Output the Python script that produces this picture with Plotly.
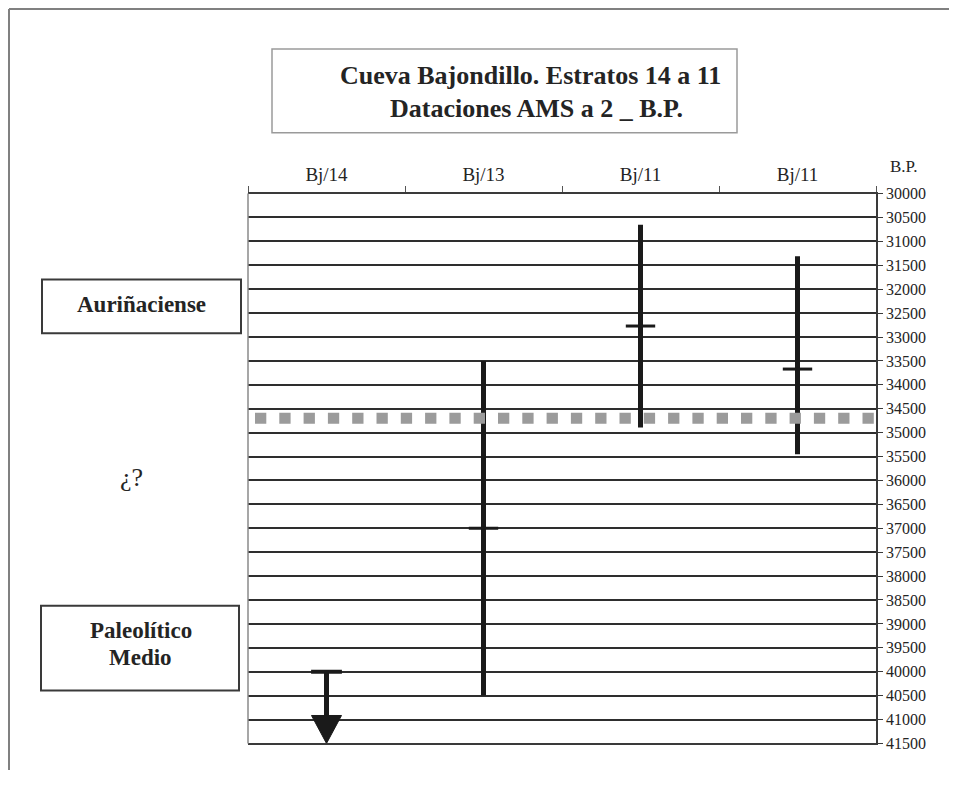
import plotly.graph_objects as go

# ---------------- data ----------------
categories = ["Bj/14", "Bj/13", "Bj/11", "Bj/11"]
cat_pos = [0, 1, 2, 3]

# AMS dates (years B.P.), 2-sigma ranges
dated_pos = [1, 2, 3]
dated_center = [37000, 32770, 33670]
dated_young = [33500, 30650, 31310]
dated_old = [40500, 34890, 35450]

# Bj/14: older than 40000 B.P.
bj14_pos = 0
bj14_min_age = 40000

# Auriñaciense / Paleolítico Medio boundary (dotted line)
boundary_age = 34700

y_ticks = [30000, 30500, 31000, 31500, 32000, 32500, 33000, 33500, 34000, 34500,
           35000, 35500, 36000, 36500, 37000, 37500, 38000, 38500, 39000, 39500,
           40000, 40500, 41000, 41500]
y_tick_text = [str(v) for v in y_ticks]
y_min, y_max = y_ticks[0], y_ticks[-1]

title_lines = ["Cueva Bajondillo. Estratos 14 a 11", "Dataciones AMS a 2 _ B.P."]
period_upper = "Auriñaciense"
period_mid = "¿?"
period_lower = ["Paleolítico", "Medio"]
axis_unit = "B.P."

# ---------------- layout geometry ----------------
# Target positions are given in picture pixels; the page keeps its default
# 8px body margin, so the figure is 16px smaller than the 957x787 window.
WIN_W, WIN_H = 957, 787
OFF = 8
W, H = WIN_W - 2 * OFF, WIN_H - 2 * OFF
Y_SCALE, Y_SHIFT = 0.98, 7.2          # picture-vs-page vertical calibration
L, R, T, B = 248, 876, 193, 744       # plot area in picture pixels
FONT = "Liberation Serif"
INK = "#242424"
BAR = "#1a1a1a"


def px(x):
    return (x - OFF) / W


def py(y):
    page_y = (y - Y_SHIFT) / Y_SCALE
    return 1 - (page_y - OFF) / H


yrs_per_px = (y_max - y_min) / (B - T)
cat_per_px = len(categories) / (R - L)

fig = go.Figure()

# dummy trace to hold the category-label axis
fig.add_trace(go.Scatter(x=cat_pos, y=[y_min] * len(cat_pos), xaxis="x2", yaxis="y",
                         mode="markers", marker=dict(opacity=0), hoverinfo="skip",
                         showlegend=False))

# Bj/14 : cap at 40000 with arrow downward (older)
head_len = 28 * yrs_per_px
head_hw = 15 * cat_per_px
arrow_base = y_max - head_len
fig.add_trace(go.Scatter(x=[bj14_pos, bj14_pos], y=[bj14_min_age, arrow_base + 30],
                         mode="lines", line=dict(color=BAR, width=5),
                         hoverinfo="skip", showlegend=False))
fig.add_trace(go.Scatter(x=[bj14_pos - head_hw, bj14_pos + head_hw, bj14_pos, bj14_pos - head_hw],
                         y=[arrow_base, arrow_base, y_max, arrow_base],
                         mode="lines", fill="toself", fillcolor=BAR,
                         line=dict(color=BAR, width=1),
                         hoverinfo="skip", showlegend=False))
fig.add_trace(go.Scatter(x=[bj14_pos], y=[bj14_min_age], mode="markers",
                         marker=dict(symbol="line-ew", size=22,
                                     line=dict(color=BAR, width=4)),
                         hoverinfo="skip", showlegend=False))

# dated ranges
fig.add_trace(go.Scatter(
    x=dated_pos, y=dated_center, mode="markers",
    marker=dict(symbol="line-ew", size=21, line=dict(color=BAR, width=3)),
    error_y=dict(type="data", symmetric=False,
                 array=[o - c for o, c in zip(dated_old, dated_center)],
                 arrayminus=[c - yg for c, yg in zip(dated_center, dated_young)],
                 thickness=5, width=0, color=BAR),
    hoverinfo="skip", showlegend=False))

# dotted boundary
dot_start = -0.5 + 7 * cat_per_px
fig.add_trace(go.Scatter(x=[dot_start, 3.5], y=[boundary_age, boundary_age], mode="lines",
                         line=dict(color="#9b9b9b", width=11, dash="11.3px,13px"),
                         hoverinfo="skip", showlegend=False))

shapes = [
    # outer frame
    dict(type="line", xref="paper", yref="paper", x0=px(9), x1=1, y0=py(8), y1=py(8),
         line=dict(color="#808080", width=2)),
    dict(type="line", xref="paper", yref="paper", x0=px(9), x1=px(9), y0=0, y1=py(8),
         line=dict(color="#808080", width=2)),
    # left boundary of the plot
    dict(type="line", xref="paper", yref="paper", x0=px(L), x1=px(L), y0=py(B), y1=py(T),
         line=dict(color="#8a8a8a", width=1.5)),
    # title box
    dict(type="rect", xref="paper", yref="paper", x0=px(272), x1=px(737), y0=py(132), y1=py(48),
         line=dict(color="#9a9a9a", width=1.5)),
    # period boxes
    dict(type="rect", xref="paper", yref="paper", x0=px(42), x1=px(241), y0=py(333), y1=py(279),
         line=dict(color="#3a3a3a", width=2)),
    dict(type="rect", xref="paper", yref="paper", x0=px(41), x1=px(239), y0=py(691), y1=py(606),
         line=dict(color="#3a3a3a", width=2)),
]


def note(text, x, y, size):
    return dict(text=text, x=px(x), y=py(y), xref="paper", yref="paper",
                showarrow=False, xanchor="center", yanchor="middle",
                font=dict(family=FONT, size=size, color=INK))


annotations = [
    note("<b>%s</b>" % title_lines[0], 530, 75, 26),
    note("<b>%s</b>" % title_lines[1], 536, 108, 26),
    note("<b>%s</b>" % period_upper, 141.5, 304, 23),
    note(period_mid, 131, 478, 26),
    note("<b>%s</b>" % period_lower[0], 140.5, 631, 23),
    note("<b>%s</b>" % period_lower[1], 140, 658, 23),
    note(axis_unit, 903, 166, 17),
]

fig.update_layout(
    width=W, height=H,
    margin=dict(l=0, r=0, t=0, b=0),
    paper_bgcolor="white", plot_bgcolor="white",
    showlegend=False, hovermode=False,
    xaxis=dict(domain=[px(L), px(R)], range=[-0.5, 3.5], side="top", anchor="y",
               showline=True, linecolor="#3a3a3a", linewidth=1.5, mirror=True,
               tickmode="array", tickvals=[-0.5, 0.5, 1.5, 2.5, 3.5],
               ticks="outside", ticklen=6, tickwidth=1, tickcolor="#555",
               showticklabels=False, showgrid=False, zeroline=False, fixedrange=True),
    xaxis2=dict(domain=[px(L), px(R)], range=[-0.5, 3.5], side="top", anchor="y",
                overlaying="x", showline=False, ticks="", showgrid=False, zeroline=False,
                tickmode="array", tickvals=cat_pos, ticktext=categories,
                ticklabelstandoff=8,
                tickfont=dict(family=FONT, size=19, color=INK), fixedrange=True),
    yaxis=dict(domain=[py(B), py(T)], range=[y_max, y_min], side="right", anchor="x",
               showline=True, linecolor="#3a3a3a", linewidth=1.5,
               tickmode="array", tickvals=y_ticks, ticktext=y_tick_text,
               ticks="outside", ticklen=5, tickwidth=1, tickcolor="#3a3a3a",
               showgrid=True, gridcolor="#2e2e2e", gridwidth=2, zeroline=False,
               tickfont=dict(family=FONT, size=16, color=INK), fixedrange=True),
    shapes=shapes,
    annotations=annotations,
)

fig.write_html("out.html", config={"displayModeBar": False})
